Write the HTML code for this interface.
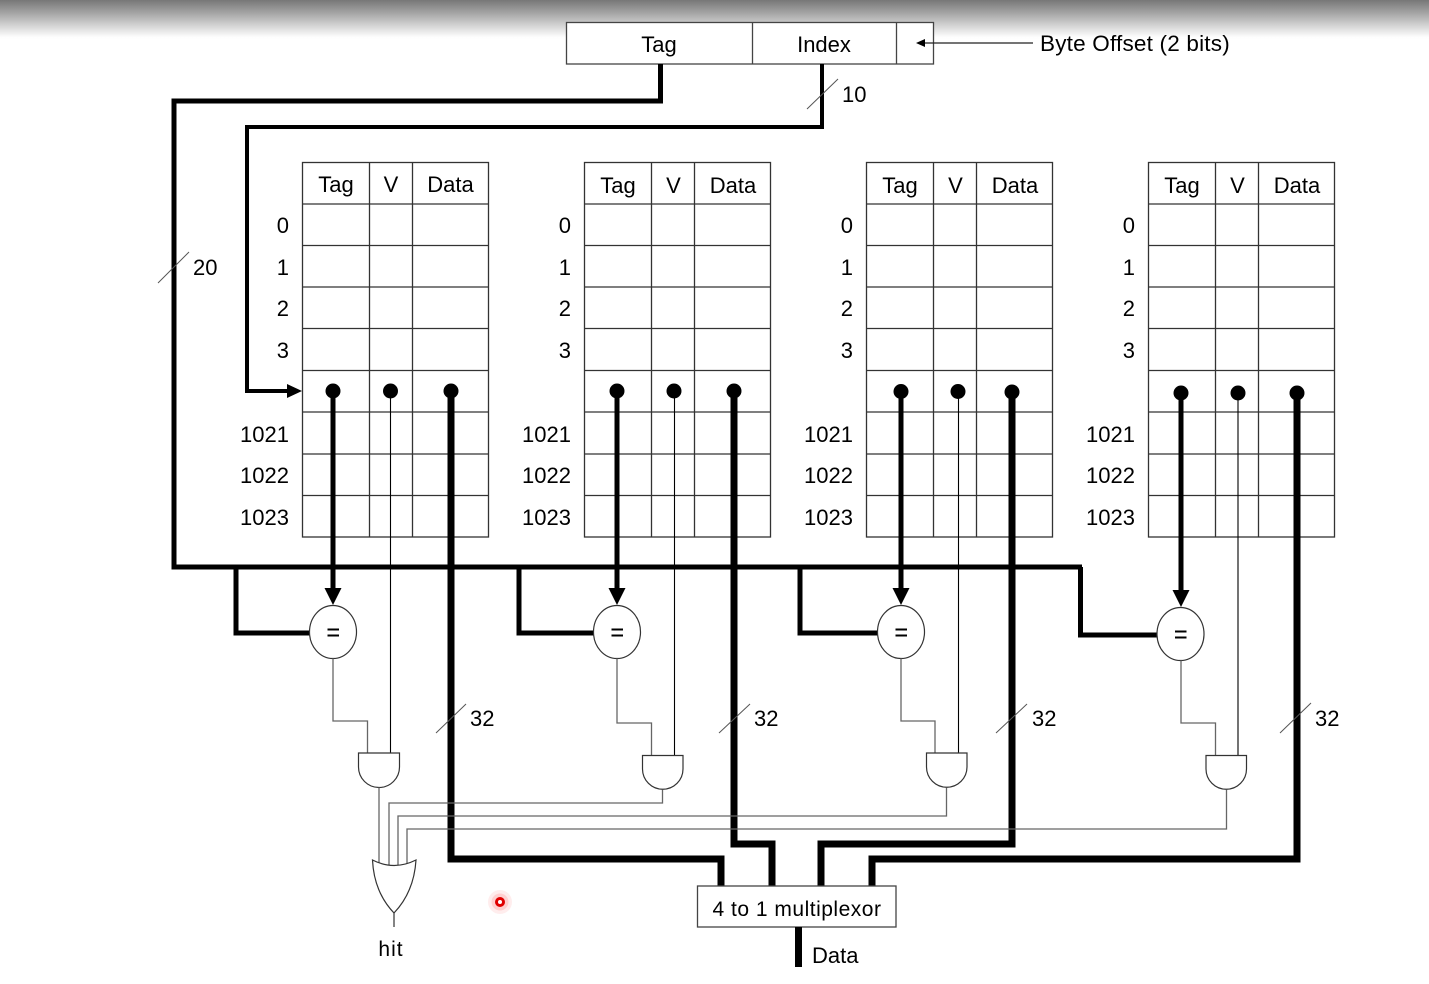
<!DOCTYPE html>
<html>
<head>
<meta charset="utf-8">
<style>
  html,body{margin:0;padding:0;background:#fff;}
  body{width:1429px;height:984px;overflow:hidden;position:relative;
    background:linear-gradient(to bottom,#777 0px,#a8a8a8 14px,#e4e4e4 30px,#fdfdfd 37px,#fff 40px,#fff 100%);}
  svg{position:absolute;left:0;top:0;}
  text{font-family:"Liberation Sans",Arial,sans-serif;fill:#000;}
</style>
</head>
<body>
<svg width="1429" height="984" viewBox="0 0 1429 984" xmlns="http://www.w3.org/2000/svg">
  <!-- Address box -->
  <rect x="566.5" y="22.5" width="367" height="41.5" fill="#fff" stroke="#444" stroke-width="1.3"/>
  <line x1="752.5" y1="22.5" x2="752.5" y2="64" stroke="#444" stroke-width="1.3"/>
  <line x1="896.5" y1="22.5" x2="896.5" y2="64" stroke="#444" stroke-width="1.3"/>
  <text x="659" y="52" font-size="22" text-anchor="middle">Tag</text>
  <text x="824" y="52" font-size="22" text-anchor="middle">Index</text>
  <line x1="923" y1="43" x2="1033" y2="43" stroke="#222" stroke-width="1.2"/>
  <polygon points="916,43 925,39 925,47" fill="#000"/>
  <text x="1040" y="51" font-size="22.5" letter-spacing="0.2">Byte Offset (2 bits)</text>

  <!-- Tag bus (20 bits) -->
  <path d="M660.5 64 V101 H174 V567 H1082" fill="none" stroke="#000" stroke-width="5" stroke-linejoin="miter"/>
  <path d="M236 567 V633 H310" fill="none" stroke="#000" stroke-width="5"/>
  <path d="M519 567 V633 H594" fill="none" stroke="#000" stroke-width="5"/>
  <path d="M800 567 V633 H878" fill="none" stroke="#000" stroke-width="5"/>
  <path d="M1080.5 567 V635 H1157" fill="none" stroke="#000" stroke-width="5"/>
  <line x1="158" y1="283" x2="189" y2="252" stroke="#555" stroke-width="1"/>
  <text x="193" y="275" font-size="22">20</text>

  <!-- Index bus (10 bits) -->
  <path d="M822 64 V127 H247 V391 H290" fill="none" stroke="#000" stroke-width="4"/>
  <polygon points="302,391 287,384 287,398" fill="#000"/>
  <line x1="807" y1="109" x2="838" y2="79" stroke="#555" stroke-width="1"/>
  <text x="842" y="102" font-size="22">10</text>

  <!-- Tables -->
  <g fill="none" stroke="#333" stroke-width="1.3">
    <rect x="302.5" y="162.5" width="186" height="374.5"/>
    <line x1="369.5" y1="162.5" x2="369.5" y2="537"/>
    <line x1="412.5" y1="162.5" x2="412.5" y2="537"/>
    <rect x="584.5" y="162.5" width="186" height="374.5"/>
    <line x1="651.5" y1="162.5" x2="651.5" y2="537"/>
    <line x1="694.5" y1="162.5" x2="694.5" y2="537"/>
    <rect x="866.5" y="162.5" width="186" height="374.5"/>
    <line x1="933.5" y1="162.5" x2="933.5" y2="537"/>
    <line x1="976.5" y1="162.5" x2="976.5" y2="537"/>
    <rect x="1148.5" y="162.5" width="186" height="374.5"/>
    <line x1="1215.5" y1="162.5" x2="1215.5" y2="537"/>
    <line x1="1258.5" y1="162.5" x2="1258.5" y2="537"/>
    <path d="M302.5 204H488.5M302.5 245.5H488.5M302.5 287H488.5M302.5 328.5H488.5M302.5 370.5H488.5M302.5 412H488.5M302.5 454H488.5M302.5 495.5H488.5"/>
    <path d="M584.5 204H770.5M584.5 245.5H770.5M584.5 287H770.5M584.5 328.5H770.5M584.5 370.5H770.5M584.5 412H770.5M584.5 454H770.5M584.5 495.5H770.5"/>
    <path d="M866.5 204H1052.5M866.5 245.5H1052.5M866.5 287H1052.5M866.5 328.5H1052.5M866.5 370.5H1052.5M866.5 412H1052.5M866.5 454H1052.5M866.5 495.5H1052.5"/>
    <path d="M1148.5 204H1334.5M1148.5 245.5H1334.5M1148.5 287H1334.5M1148.5 328.5H1334.5M1148.5 370.5H1334.5M1148.5 412H1334.5M1148.5 454H1334.5M1148.5 495.5H1334.5"/>
  </g>

  <!-- headers -->
  <g font-size="22" text-anchor="middle">
    <text x="336" y="192">Tag</text><text x="391" y="192">V</text><text x="450.5" y="192">Data</text>
    <text x="618" y="193">Tag</text><text x="673.5" y="193">V</text><text x="733" y="193">Data</text>
    <text x="900" y="193">Tag</text><text x="955.5" y="193">V</text><text x="1015" y="193">Data</text>
    <text x="1182" y="193">Tag</text><text x="1237.5" y="193">V</text><text x="1297" y="193">Data</text>
  </g>

  <!-- row labels -->
  <g font-size="22" text-anchor="end">
    <text x="289" y="233">0</text><text x="289" y="275">1</text><text x="289" y="316">2</text><text x="289" y="358">3</text>
    <text x="289" y="442">1021</text><text x="289" y="483">1022</text><text x="289" y="525">1023</text>
    <text x="571" y="233">0</text><text x="571" y="275">1</text><text x="571" y="316">2</text><text x="571" y="358">3</text>
    <text x="571" y="442">1021</text><text x="571" y="483">1022</text><text x="571" y="525">1023</text>
    <text x="853" y="233">0</text><text x="853" y="275">1</text><text x="853" y="316">2</text><text x="853" y="358">3</text>
    <text x="853" y="442">1021</text><text x="853" y="483">1022</text><text x="853" y="525">1023</text>
    <text x="1135" y="233">0</text><text x="1135" y="275">1</text><text x="1135" y="316">2</text><text x="1135" y="358">3</text>
    <text x="1135" y="442">1021</text><text x="1135" y="483">1022</text><text x="1135" y="525">1023</text>
  </g>

  <!-- Tag lines to comparators -->
  <g stroke="#000" stroke-width="5">
    <line x1="333" y1="391" x2="333" y2="590"/>
    <line x1="617" y1="391" x2="617" y2="590"/>
    <line x1="901" y1="392" x2="901" y2="590"/>
    <line x1="1181" y1="393" x2="1181" y2="592"/>
  </g>
  <g fill="#000">
    <polygon points="333,605 324.5,588 341.5,588"/>
    <polygon points="617,605 608.5,588 625.5,588"/>
    <polygon points="901,605 892.5,588 909.5,588"/>
    <polygon points="1181,607 1172.5,590 1189.5,590"/>
  </g>

  <!-- V lines -->
  <g stroke="#000" stroke-width="1.1">
    <line x1="390.5" y1="391" x2="390.5" y2="753"/>
    <line x1="674.5" y1="391" x2="674.5" y2="755"/>
    <line x1="958.5" y1="392" x2="958.5" y2="753"/>
    <line x1="1238" y1="393" x2="1238" y2="755"/>
  </g>

  <!-- Data lines -->
  <g fill="none" stroke="#000" stroke-width="7">
    <path d="M451 391 V859 H721 V886"/>
    <path d="M734 391 V844 H772 V886"/>
    <path d="M1012 392 V844 H821 V886"/>
    <path d="M1297 393 V859 H872 V886"/>
  </g>

  <!-- dots -->
  <g fill="#000">
    <circle cx="333" cy="391" r="7.5"/><circle cx="390.5" cy="391" r="7.5"/><circle cx="451" cy="391" r="7.5"/>
    <circle cx="617" cy="391" r="7.5"/><circle cx="674" cy="391" r="7.5"/><circle cx="734" cy="391" r="7.5"/>
    <circle cx="901" cy="391.5" r="7.5"/><circle cx="958" cy="391.5" r="7.5"/><circle cx="1012" cy="392" r="7.5"/>
    <circle cx="1181" cy="393" r="7.5"/><circle cx="1238" cy="393" r="7.5"/><circle cx="1297" cy="393" r="7.5"/>
  </g>

  <!-- 32 labels -->
  <g stroke="#555" stroke-width="1">
    <line x1="436" y1="733" x2="466" y2="704"/>
    <line x1="719" y1="733" x2="750" y2="704"/>
    <line x1="996" y1="733" x2="1027" y2="704"/>
    <line x1="1280" y1="733" x2="1311" y2="703"/>
  </g>
  <g font-size="22">
    <text x="470" y="726">32</text>
    <text x="754" y="726">32</text>
    <text x="1032" y="726">32</text>
    <text x="1315" y="726">32</text>
  </g>

  <!-- Comparators -->
  <g fill="#fff" stroke="#333" stroke-width="1.2">
    <ellipse cx="333" cy="632" rx="23.5" ry="26.5"/>
    <ellipse cx="617" cy="632" rx="23.5" ry="26.5"/>
    <ellipse cx="901" cy="632" rx="23.5" ry="26.5"/>
    <ellipse cx="1180.5" cy="634" rx="23.5" ry="26.5"/>
  </g>
  <g stroke="#000" stroke-width="2">
    <path d="M327.5 629.5H339M327.5 635.5H339"/>
    <path d="M611.5 629.5H623M611.5 635.5H623"/>
    <path d="M895.5 629.5H907M895.5 635.5H907"/>
    <path d="M1175 631.5H1186.5M1175 637.5H1186.5"/>
  </g>

  <!-- Comparator outputs to AND -->
  <g fill="none" stroke="#666" stroke-width="1.3">
    <path d="M333 658.5 V721 H367.5 V753"/>
    <path d="M617 658.5 V723 H651.5 V755"/>
    <path d="M901 658.5 V721 H935 V753"/>
    <path d="M1181 660.5 V723 H1215.5 V755"/>
  </g>

  <!-- AND gates -->
  <g fill="#fff" stroke="#333" stroke-width="1.2">
    <path d="M358.5 753 H399.5 V767 A20.5 20.5 0 0 1 358.5 767 Z"/>
    <path d="M642.5 755.5 H683 V769 A20.25 20.25 0 0 1 642.5 769 Z"/>
    <path d="M926.5 753 H967 V767 A20.25 20.25 0 0 1 926.5 767 Z"/>
    <path d="M1206 755.5 H1246.5 V769 A20.25 20.25 0 0 1 1206 769 Z"/>
  </g>

  <!-- AND outputs to OR -->
  <g fill="none" stroke="#666" stroke-width="1.3">
    <path d="M379 787.5 V864"/>
    <path d="M662.5 789.5 V803 H389 V865"/>
    <path d="M946.5 787.5 V816 H398 V865"/>
    <path d="M1226.5 789.5 V829 H407 V864"/>
  </g>

  <!-- OR gate -->
  <path d="M372.5 860 Q394 871 416 860 Q414 892 394 913 Q374 892 372.5 860 Z" fill="#fff" stroke="#333" stroke-width="1.2"/>
  <line x1="394" y1="913" x2="394" y2="927" stroke="#333" stroke-width="1.2"/>
  <text x="391" y="956" font-size="21" text-anchor="middle" letter-spacing="1">hit</text>

  <!-- Mux -->
  <rect x="697.5" y="886" width="198.5" height="41" fill="#fff" stroke="#444" stroke-width="1.3"/>
  <text x="797" y="916" font-size="21" text-anchor="middle" letter-spacing="0.5">4 to 1 multiplexor</text>
  <line x1="798.5" y1="927" x2="798.5" y2="967" stroke="#000" stroke-width="7"/>
  <text x="812" y="963" font-size="22">Data</text>

  <!-- red cursor marker -->
  <circle cx="500" cy="902" r="12" fill="#ff0000" opacity="0.07"/>
  <circle cx="500" cy="902" r="8.5" fill="#ff0000" opacity="0.12"/>
  <circle cx="500" cy="902" r="5" fill="#e00000"/>
  <circle cx="500" cy="902" r="2" fill="#fff"/>
</svg>
</body>
</html>
